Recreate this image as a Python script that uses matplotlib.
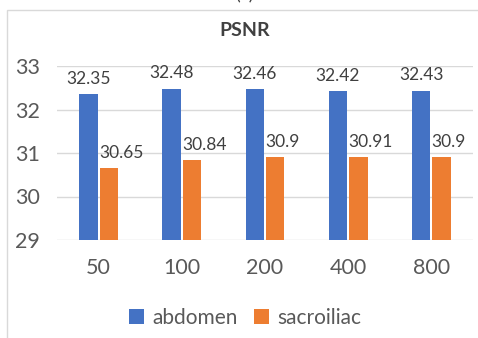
import numpy as np
import matplotlib.pyplot as plt
from matplotlib.patches import Rectangle

plt.rcParams['font.family'] = ['Lato', 'DejaVu Sans']

categories = ['50', '100', '200', '400', '800']
abdomen = [32.35, 32.48, 32.46, 32.42, 32.43]
sacroiliac = [30.65, 30.84, 30.9, 30.91, 30.9]

W, H = 478, 338
fig = plt.figure(figsize=(W / 100, H / 100), dpi=100)
ax = fig.add_axes([57 / W, 1 - 240 / H, (473 - 57) / W, (240 - 66) / H])

text_c = '#595959'
x = np.arange(len(categories))
bw = 0.22
gap = 0.013
ax.bar(x - bw / 2 - gap, abdomen, bw, color='#4472C4', label='abdomen', zorder=3)
ax.bar(x + bw / 2 + gap, sacroiliac, bw, color='#ED7D31', label='sacroiliac', zorder=3)

# abdomen labels centred on the bar, sacroiliac labels start at the bar's left edge
for xi, v in zip(x, abdomen):
    ax.text(xi - bw / 2 - gap, v + 0.17, f'{v:g}', ha='center', va='bottom',
            fontsize=12.5, color='#404040')
for xi, v in zip(x, sacroiliac):
    ax.text(xi + gap - 0.01, v + 0.17, f'{v:g}', ha='left', va='bottom',
            fontsize=12.5, color='#404040')

ax.set_ylim(29, 33)
ax.set_xlim(-0.5, len(categories) - 0.5)
ax.set_yticks([29, 30, 31, 32, 33])
ax.set_xticks(x)
ax.set_xticklabels(categories)
ax.tick_params(length=0, labelsize=15.5, colors=text_c)
ax.tick_params(axis='x', pad=13)
ax.tick_params(axis='y', pad=12)
ax.grid(axis='y', color='#D9D9D9', linewidth=1, zorder=0)
for s in ax.spines.values():
    s.set_visible(False)

fig.text(245 / W, 1 - 31 / H, 'PSNR', ha='center', va='center', fontsize=14,
         fontweight='bold', color='#404040')
fig.text(245 / W, 1 + 5 / H, '(a)', ha='center', va='center', fontsize=13, color='#404040')

fig.legend(loc='center', bbox_to_anchor=(245 / W, 1 - 318 / H), ncol=2, frameon=False,
           fontsize=15, labelcolor=text_c, handlelength=0.7, handleheight=0.7,
           handletextpad=0.4, columnspacing=0.8)

# outer chart border, clipped on the right and bottom
fig.patches.append(Rectangle((7 / W, -0.1), 1.2, 1.1 - 10 / H, transform=fig.transFigure,
                             fill=False, edgecolor='#D9D9D9', linewidth=1))

fig.savefig('out.png', dpi=100)
